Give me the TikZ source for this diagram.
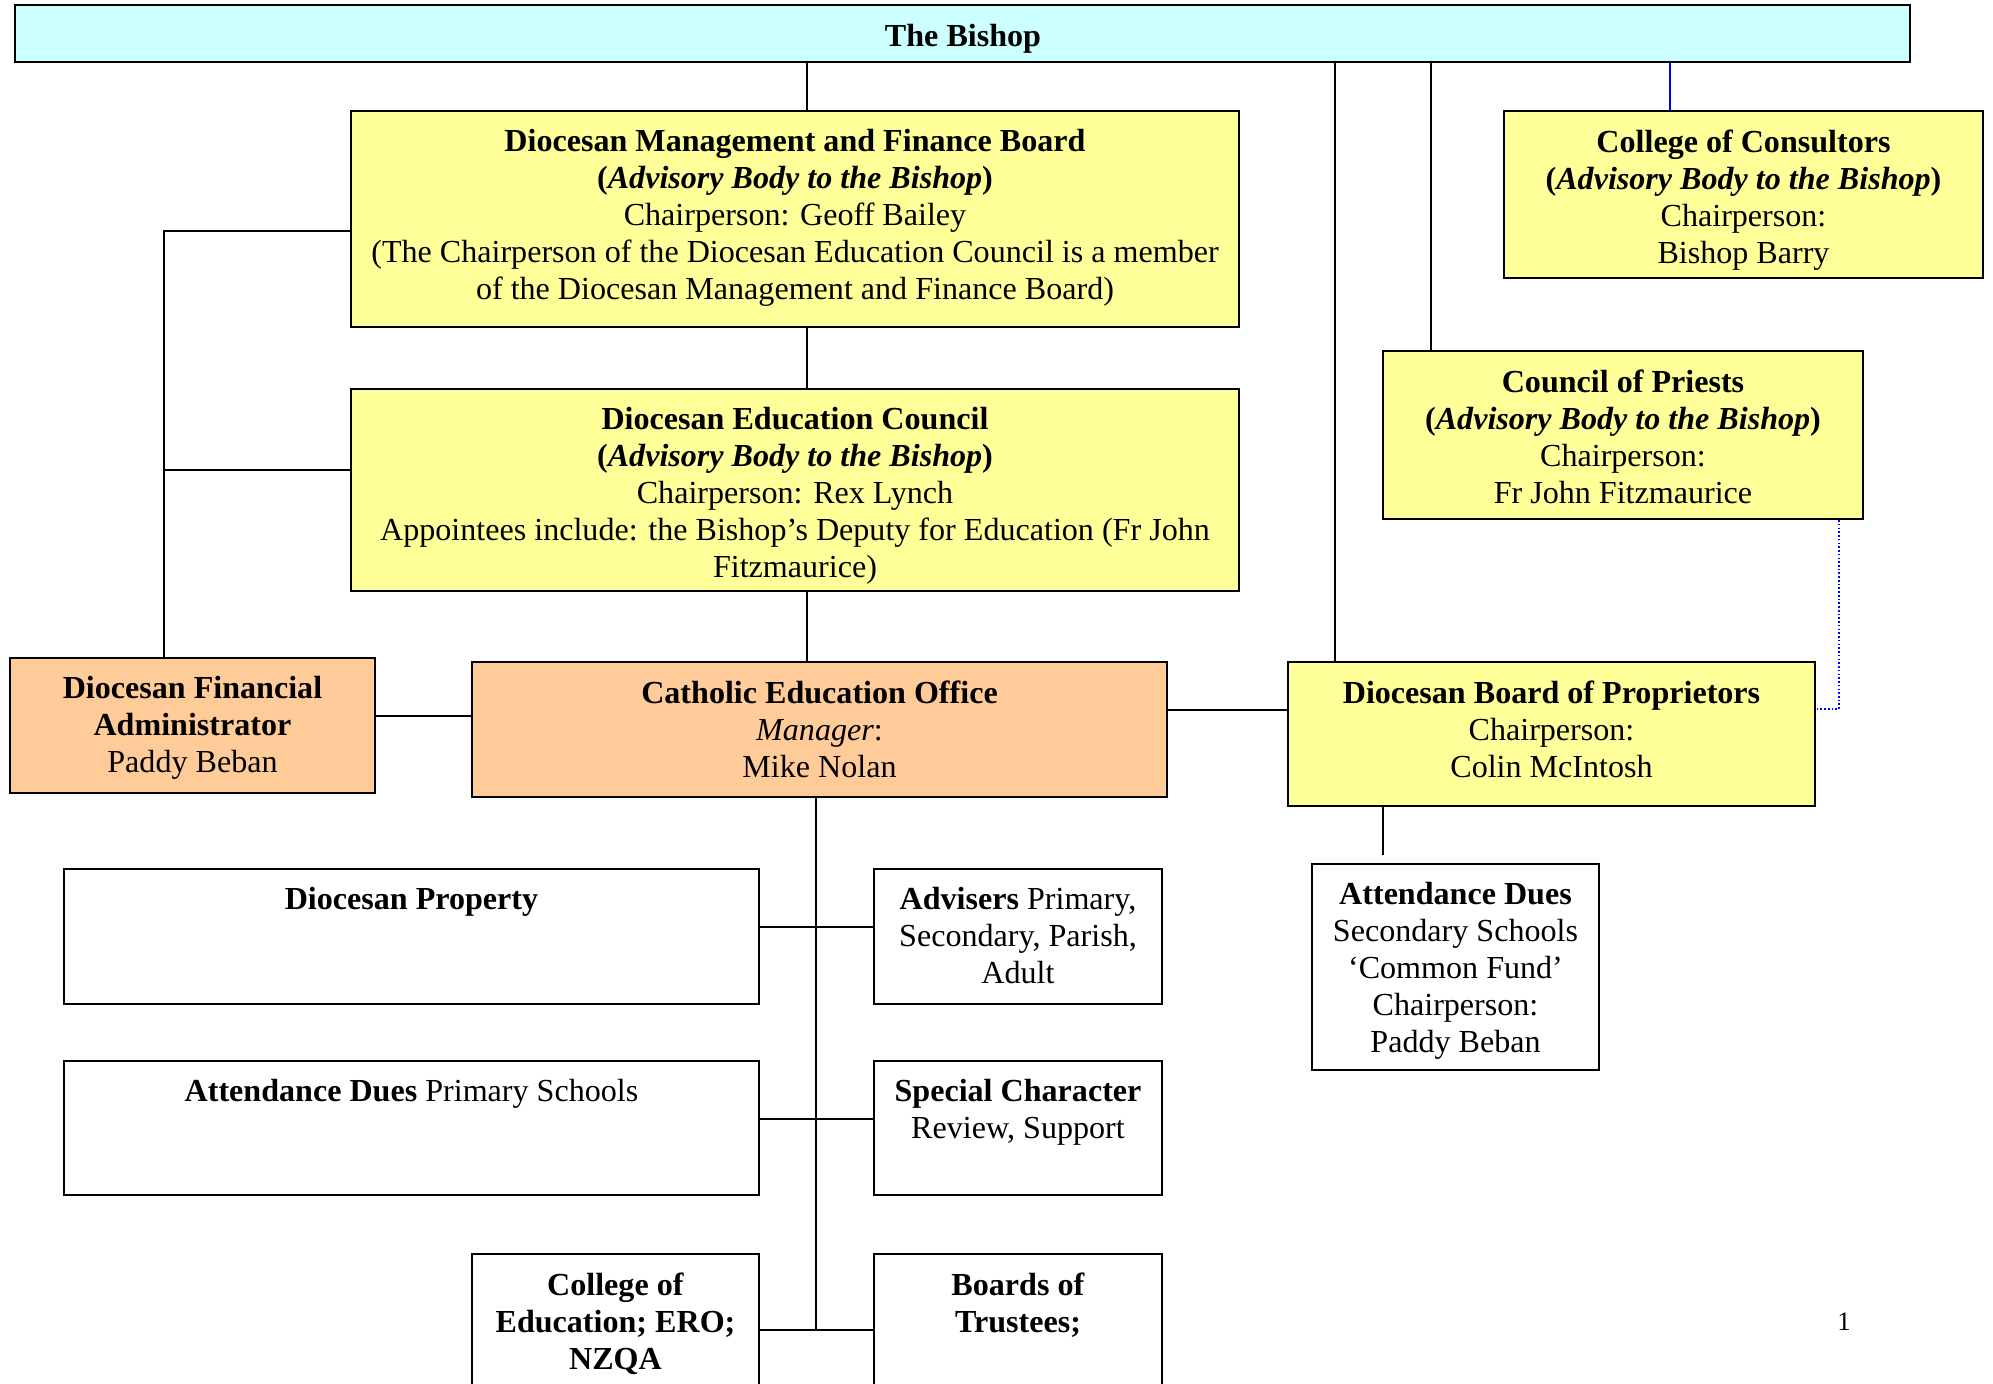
\documentclass[tikz,border=0pt]{standalone}
\usepackage{fontspec}
\setmainfont{Liberation Serif}
\usetikzlibrary{fit}
\definecolor{bishopcyan}{HTML}{CCFFFF}
\definecolor{boardyellow}{HTML}{FFFF99}
\definecolor{officeorange}{HTML}{FFCC99}
\tikzset{
  box/.style={draw, line width=0.8pt, inner sep=0pt},
  ybox/.style={box, fill=boardyellow},
  obox/.style={box, fill=officeorange},
  wbox/.style={box, fill=white},
  txt/.style={anchor=north, align=center, inner sep=0pt, font=\fontsize{12}{13.8}\selectfont},
  link/.style={line width=0.6pt},
  advisory/.style={link, blue, dash pattern=on 0.6pt off 0.8pt},
}
\begin{document}
\begin{tikzpicture}[x=0.374pt, y=-0.374pt]
            \useasboundingbox (0,0) rectangle (1993,1384);
            \clip (0,0) rectangle (1993,1384);
            \fill[white] (0,0) rectangle (1993,1384);

            % top row
            \node[box, fill=bishopcyan, fit={(15,5) (1910,62)}] (bishop) {};
            \node[txt, anchor=center] (bishopt) at (963,38.5) {\textbf{The Bishop}};

            \node[ybox, fit={(351,111) (1239,327)}] (dmfb) {};
            \node[txt] (dmfbt) at ([yshift=-7.2pt]dmfb.north) {\textbf{Diocesan Management and Finance Board}\\
                \textbf{(\textit{Advisory Body to the Bishop})}\\
                Chairperson: Geoff Bailey\\
                (The Chairperson of the Diocesan Education Council is a member\\
                of the Diocesan Management and Finance Board)};

            \node[ybox, fit={(351,389) (1239,591)}] (dec) {};
            \node[txt] (dect) at ([yshift=-7.2pt]dec.north) {\textbf{Diocesan Education Council}\\
                \textbf{(\textit{Advisory Body to the Bishop})}\\
                Chairperson: Rex Lynch\\
                Appointees include: the Bishop’s Deputy for Education (Fr John\\
                Fitzmaurice)};

            \node[ybox, fit={(1504,111) (1983,278)}] (coc) {};
            \node[txt] (coct) at ([yshift=-7.2pt]coc.north) {\textbf{College of Consultors}\\
                \textbf{(\textit{Advisory Body to the Bishop})}\\
                Chairperson:\\
                Bishop Barry};

            \node[ybox, fit={(1383,351) (1863,519)}] (cop) {};
            \node[txt] (copt) at ([yshift=-7.2pt]cop.north) {\textbf{Council of Priests}\\
                \textbf{(\textit{Advisory Body to the Bishop})}\\
                Chairperson:\\
                Fr John Fitzmaurice};

            % middle row
            \node[obox, fit={(10,658) (375,793)}] (dfa) {};
            \node[txt] (dfat) at ([yshift=-7.2pt]dfa.north) {\textbf{Diocesan Financial}\\
                \textbf{Administrator}\\
                Paddy Beban};

            \node[obox, fit={(472,662) (1167,797)}] (ceo) {};
            \node[txt] (ceot) at ([yshift=-7.2pt]ceo.north) {\textbf{Catholic Education Office}\\
                \textit{Manager}:\\
                Mike Nolan};

            \node[ybox, fit={(1288,662) (1815,806)}] (dbp) {};
            \node[txt] (dbpt) at ([yshift=-7.2pt]dbp.north) {\textbf{Diocesan Board of Proprietors}\\
                Chairperson:\\
                Colin McIntosh};

            \node[wbox, fit={(1312,864) (1599,1070)}] (ads) {};
            \node[txt] (adst) at ([yshift=-7.2pt]ads.north) {\textbf{Attendance Dues}\\
                Secondary Schools\\
                ‘Common Fund’\\
                Chairperson:\\
                Paddy Beban};

            % lower rows
            \node[wbox, fit={(64,869) (759,1004)}] (prop) {};
            \node[txt] (propt) at ([yshift=-7.2pt]prop.north) {\textbf{Diocesan Property}};

            \node[wbox, fit={(874,869) (1162,1004)}] (adv) {};
            \node[txt] (advt) at ([yshift=-7.2pt]adv.north) {\textbf{Advisers} Primary,\\
                Secondary, Parish,\\
                Adult};

            \node[wbox, fit={(64,1061) (759,1195)}] (adp) {};
            \node[txt] (adpt) at ([yshift=-7.2pt]adp.north) {\textbf{Attendance Dues} Primary Schools};

            \node[wbox, fit={(874,1061) (1162,1195)}] (spec) {};
            \node[txt] (spect) at ([yshift=-7.2pt]spec.north) {\textbf{Special Character}\\
                Review, Support};

            \node[wbox, fit={(472,1254) (759,1392)}] (coll) {};
            \node[txt] (collt) at ([yshift=-7.2pt]coll.north) {\textbf{College of}\\
                \textbf{Education; ERO;}\\
                \textbf{NZQA}};

            \node[wbox, fit={(874,1254) (1162,1392)}] (bot) {};
            \node[txt] (bott) at ([yshift=-7.2pt]bot.north) {\textbf{Boards of}\\
                \textbf{Trustees;}};

            \node[anchor=center, inner sep=0pt, font=\fontsize{10}{12}\selectfont] (pagenum) at (1844,1322) {1};

            % connector positions
            \coordinate (xa) at (807,0);
            \coordinate (xb) at (1335,0);
            \coordinate (xc) at (1431,0);
            \coordinate (xd) at (1670,0);
            \coordinate (xe) at (1839,0);
            \coordinate (xf) at (1383,0);
            \coordinate (xl) at (164,0);
            \coordinate (xs) at (816,0);
            \coordinate (ya) at (0,231);
            \coordinate (yb) at (0,470);
            \coordinate (yc) at (0,716);
            \coordinate (yd) at (0,710);
            \coordinate (ye) at (0,709);
            \coordinate (yf) at (0,855);
            \coordinate (y1) at (0,927);
            \coordinate (y2) at (0,1119);
            \coordinate (y3) at (0,1330);

            % from the Bishop
            \draw[link] (xa |- bishop.south) -- (xa |- dmfb.north);
            \draw[link] (xa |- dmfb.south) -- (xa |- dec.north);
            \draw[link] (xa |- dec.south) -- (xa |- ceo.north);
            \draw[link] (xb |- bishop.south) -- (xb |- dbp.north);
            \draw[link] (xc |- bishop.south) -- (xc |- cop.north);
            \draw[link, blue] (xd |- bishop.south) -- (xd |- coc.north);
            \draw[advisory] (xe |- cop.south) |- (dbp.east |- ye);

            % left side
            \draw[link] (dmfb.west |- ya) -- (xl |- ya) -- (xl |- dfa.north);
            \draw[link] (dec.west |- yb) -- (xl |- yb);
            \draw[link] (dfa.east |- yc) -- (ceo.west |- yc);
            \draw[link] (ceo.east |- yd) -- (dbp.west |- yd);
            \draw[link] (xf |- dbp.south) -- (xf |- yf);

            % below the office
            \draw[link] (xs |- ceo.south) -- (xs |- y3);
            \draw[link] (prop.east |- y1) -- (adv.west |- y1);
            \draw[link] (adp.east |- y2) -- (spec.west |- y2);
            \draw[link] (coll.east |- y3) -- (bot.west |- y3);
\end{tikzpicture}
\end{document}
